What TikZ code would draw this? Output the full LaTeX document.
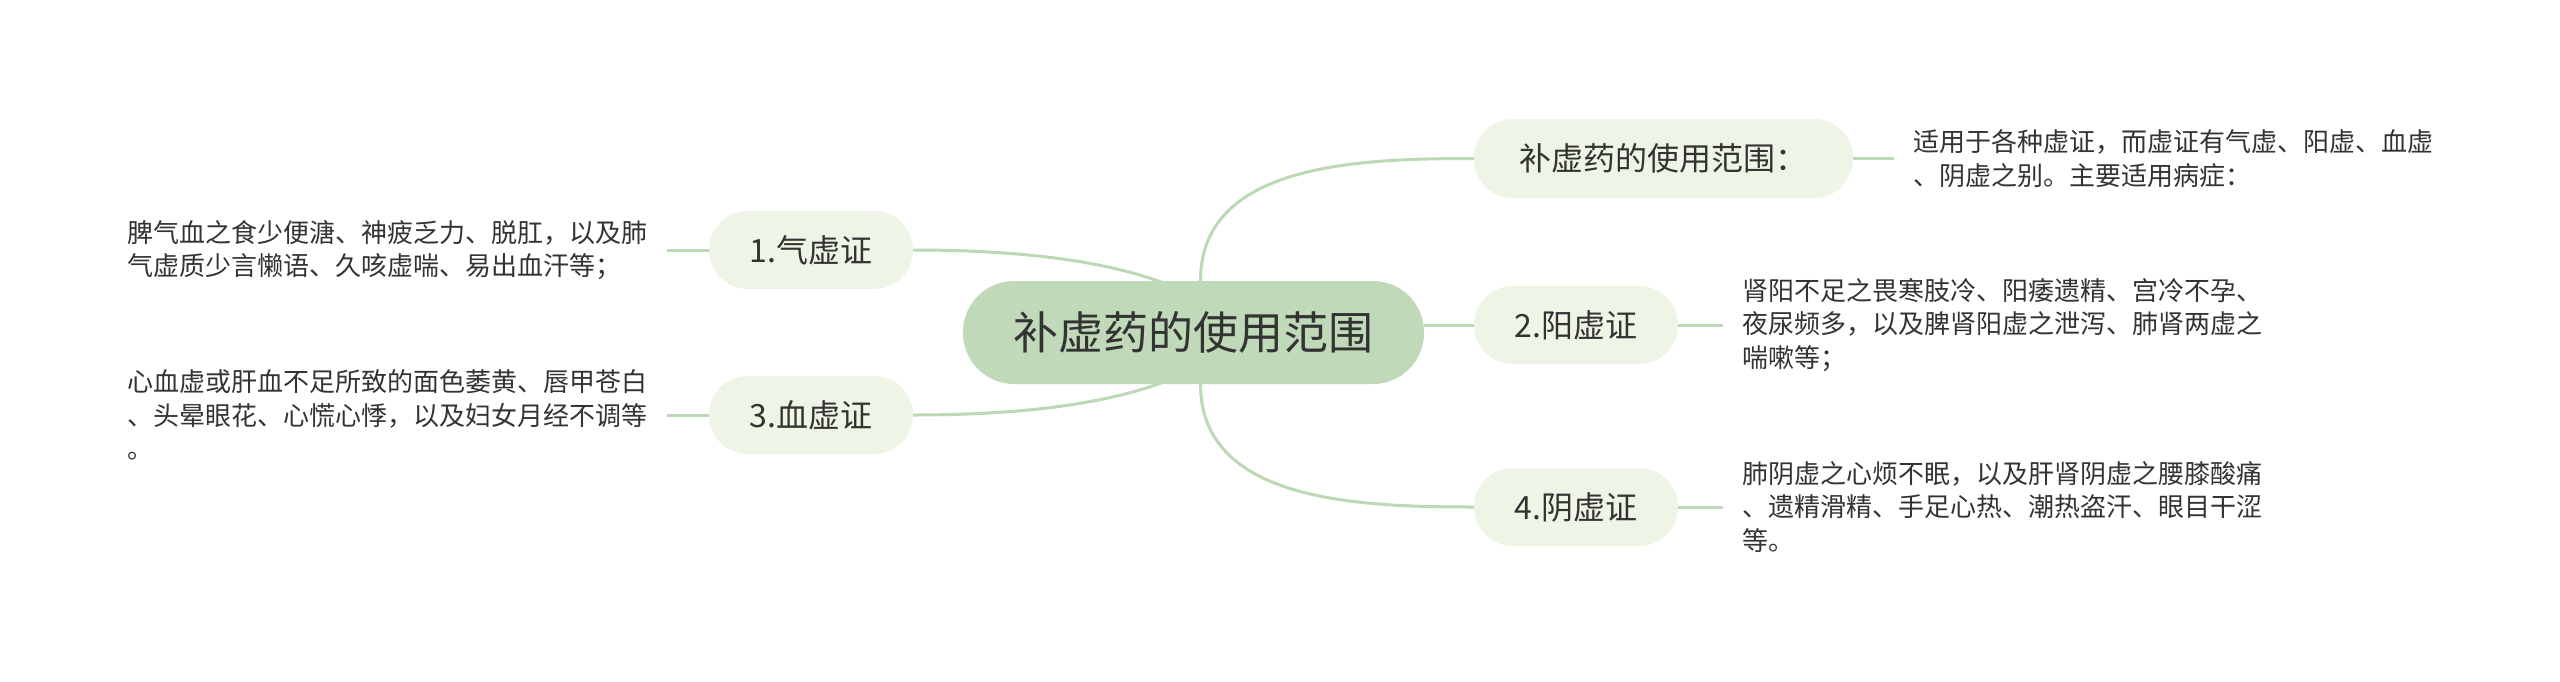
\documentclass[tikz,border=0pt]{standalone}
\usepackage{fontspec}
\setmainfont{Noto Sans CJK SC}
\usetikzlibrary{positioning,backgrounds}
\definecolor{rootfill}{HTML}{BFD9B9}
\definecolor{topicfill}{HTML}{EFF5E6}
\definecolor{linkcol}{HTML}{BDD8B6}
\definecolor{inkcol}{HTML}{333333}

\begin{document}
\begin{tikzpicture}[
    x=1pt, y=1pt,
    node distance=43pt,
    root/.style={fill=rootfill, rounded corners=51pt,
                 minimum width=461pt, minimum height=103pt,
                 text=inkcol, font=\fontsize{45}{54}\selectfont},
    topic/.style={fill=topicfill, rounded corners=39pt,
                  minimum width=204pt, minimum height=78pt,
                  text=inkcol, font=\fontsize{32}{38}\selectfont},
    note/.style={align=left, inner xsep=19pt, inner ysep=0pt,
                 text=inkcol, font=\fontsize{26}{33.5}\selectfont},
    link/.style={draw=linkcol, line width=3pt}
]
\useasboundingbox (0,0) rectangle (2560,-681);

% centre and topics
\node[root] (centre) at (1193.5,-332.5) {补虚药的使用范围};
\node[topic, minimum width=379pt, minimum height=79pt] (b1) at (1663.5,-158.5) {补虚药的使用范围：};
\node[topic] (b2) at (1576,-325) {2.阳虚证};
\node[topic] (b3) at (1576,-507) {4.阴虚证};
\node[topic] (q1) at (811,-250) {1.气虚证};
\node[topic] (q3) at (811,-415) {3.血虚证};

% notes
\node[note, right=41pt of b1] (n1) {适用于各种虚证，而虚证有气虚、阳虚、血虚\\、阴虚之别。主要适用病症：};
\node[note, right=45pt of b2] (n2) {肾阳不足之畏寒肢冷、阳痿遗精、宫冷不孕、\\夜尿频多，以及脾肾阳虚之泄泻、肺肾两虚之\\喘嗽等；};
\node[note, right=45pt of b3] (n4) {肺阴虚之心烦不眠，以及肝肾阴虚之腰膝酸痛\\、遗精滑精、手足心热、潮热盗汗、眼目干涩\\等。};
\node[note, left=42pt of q1] (m1) {脾气血之食少便溏、神疲乏力、脱肛，以及肺\\气虚质少言懒语、久咳虚喘、易出血汗等；};
\node[note, left=42pt of q3] (m3) {心血虚或肝血不足所致的面色萎黄、唇甲苍白\\、头晕眼花、心慌心悸，以及妇女月经不调等\\。};

\begin{scope}[on background layer]
\fill[white] (0,0) rectangle (2560,-681);
\draw[link] ([xshift=7pt]centre.north) to[out=90, in=180] (b1.west);
\draw[link] (b2.west -| centre.east) -- (b2.west);
\draw[link] ([xshift=7pt]centre.south) to[out=-90, in=180] (b3.west);
\draw[link] (q1.east) .. controls +(147,0) and +(-50,30) .. ([shift={(7,32)}]centre.center);
\draw[link] (q3.east) .. controls +(147,0) and +(-50,-30) .. ([shift={(7,-32)}]centre.center);
\draw[link] (b1.east) -- (b1.east -| n1.west);
\draw[link] (b2.east) -- (b2.east -| n2.west);
\draw[link] (b3.east) -- (b3.east -| n4.west);
\draw[link] (q1.west) -- (q1.west -| m1.east);
\draw[link] (q3.west) -- (q3.west -| m3.east);
\end{scope}
\end{tikzpicture}
\end{document}
